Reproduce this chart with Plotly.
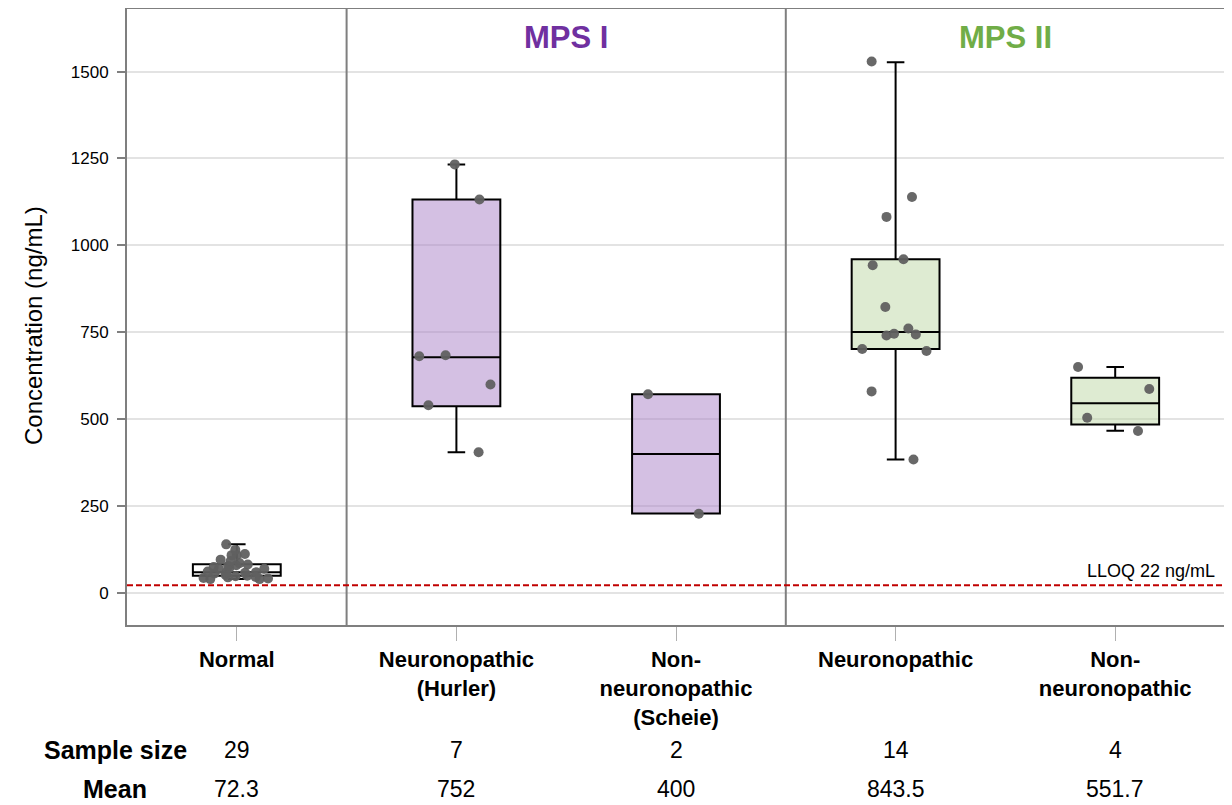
import plotly.graph_objects as go

# ---------------- data ----------------
categories = ["Normal", "Neuronopathic<br>(Hurler)", "Non-<br>neuronopathic<br>(Scheie)",
              "Neuronopathic", "Non-<br>neuronopathic"]
sample_sizes = ["29", "7", "2", "14", "4"]
means = ["72.3", "752", "400", "843.5", "551.7"]

normal_vals = [140, 124, 109, 112, 109, 96, 92, 86, 80, 82, 78, 75, 70, 72, 70,
               60, 60, 58, 56, 62, 52, 50, 48, 46, 45, 43, 42, 40, 40]
hurler_vals = [1233, 1132, 684, 681, 600, 540, 405]
scheie_vals = [572, 228]
mps2_neuro_vals = [1529, 1139, 1082, 960, 943, 823, 761, 741, 746, 744, 702, 696, 580, 384]
mps2_nonneuro_vals = [650, 587, 504, 466]

# box statistics
q1_vals = [50, 537, 229, 702, 485]
median_vals = [60, 678, 400, 751, 546]
q3_vals = [83, 1132, 572, 960, 619]
lower_vals = [40, 405, 229, 384, 467]
upper_vals = [140, 1233, 572, 1527, 650]

lloq = 22
y_ticks = [0, 250, 500, 750, 1000, 1250, 1500]

group_values = [normal_vals, hurler_vals, scheie_vals, mps2_neuro_vals, mps2_nonneuro_vals]
fills = ["rgba(255,255,255,0.6)", "rgba(170,130,200,0.5)", "rgba(170,130,200,0.5)",
         "rgba(190,215,165,0.5)", "rgba(190,215,165,0.5)"]

FONT = "Arial, Liberation Sans, Helvetica, sans-serif"
GRAY = "#7f7f7f"

# page body has an 8px margin; plot area should span x 127..1225, y 9..625 of the window
PLOT_H = 616
BOTTOM = 625

fig = go.Figure()

# boxes
for i in range(5):
    fig.add_trace(go.Box(
        x=[i], q1=[q1_vals[i]], median=[median_vals[i]], q3=[q3_vals[i]],
        lowerfence=[lower_vals[i]], upperfence=[upper_vals[i]],
        width=0.4, whiskerwidth=0.2, boxpoints=False,
        fillcolor=fills[i], line=dict(color="black", width=2),
        showlegend=False, hoverinfo="skip"))

# jittered points
for i, vals in enumerate(group_values):
    fig.add_trace(go.Box(
        x=[i] * len(vals), y=vals, boxpoints="all", jitter=1.0, pointpos=0,
        width=0.4, fillcolor="rgba(0,0,0,0)", line=dict(width=0, color="rgba(0,0,0,0)"),
        marker=dict(color="#606060", size=10, opacity=0.95),
        showlegend=False, hoverinfo="skip"))

# separators
for xs in [0.5, 2.5]:
    fig.add_shape(type="line", xref="x", yref="paper", x0=xs, x1=xs, y0=0, y1=1,
                  line=dict(color=GRAY, width=2), layer="above")

# LLOQ line
fig.add_shape(type="line", xref="paper", yref="y", x0=0, x1=1, y0=lloq, y1=lloq,
              line=dict(color="#c00000", width=2, dash="6px,3px"), layer="above")
fig.add_annotation(xref="paper", yref="y", x=0.9925, y=lloq, yshift=2, text="LLOQ 22 ng/mL",
                   showarrow=False, xanchor="right", yanchor="bottom",
                   font=dict(family=FONT, size=18, color="black"))

# group titles
title_y = (BOTTOM - 38) / PLOT_H
fig.add_annotation(xref="x", yref="paper", x=1.5, y=title_y, text="<b>MPS I</b>",
                   showarrow=False, xanchor="center", yanchor="middle",
                   font=dict(family=FONT, size=31, color="#7030a0"))
fig.add_annotation(xref="x", yref="paper", x=3.5, y=title_y, text="<b>MPS II</b>",
                   showarrow=False, xanchor="center", yanchor="middle",
                   font=dict(family=FONT, size=31, color="#70ad47"))

# y-axis title
fig.add_annotation(xref="paper", yref="paper", x=(33 - 127) / 1098, y=(BOTTOM - 326) / PLOT_H,
                   text="Concentration (ng/mL)", textangle=-90, showarrow=False,
                   xanchor="center", yanchor="middle",
                   font=dict(family=FONT, size=24, color="black"))

# table rows
row1_y = (BOTTOM - 750) / PLOT_H
row2_y = (BOTTOM - 789) / PLOT_H
label_x = (115 - 127) / 1098
fig.add_annotation(xref="paper", yref="paper", x=label_x, y=row1_y, text="<b>Sample size</b>",
                   showarrow=False, xanchor="center", yanchor="middle",
                   font=dict(family=FONT, size=25, color="black"))
fig.add_annotation(xref="paper", yref="paper", x=label_x, y=row2_y, text="<b>Mean</b>",
                   showarrow=False, xanchor="center", yanchor="middle",
                   font=dict(family=FONT, size=25, color="black"))
for i in range(5):
    fig.add_annotation(xref="x", yref="paper", x=i, y=row1_y, text=sample_sizes[i],
                       showarrow=False, xanchor="center", yanchor="middle",
                       font=dict(family=FONT, size=23, color="black"))
    fig.add_annotation(xref="x", yref="paper", x=i, y=row2_y, text=means[i],
                       showarrow=False, xanchor="center", yanchor="middle",
                       font=dict(family=FONT, size=23, color="black"))

fig.update_layout(
    width=1224, height=797,
    margin=dict(l=119, r=7, t=1, b=180, autoexpand=False),
    plot_bgcolor="white", paper_bgcolor="white",
    font=dict(family=FONT, color="black"),
    boxmode="overlay",
    showlegend=False,
    xaxis=dict(
        range=[-0.5, 4.5], tickmode="array", tickvals=list(range(5)),
        ticktext=["<b>" + c + "</b>" for c in categories],
        tickfont=dict(family=FONT, size=22, color="black"),
        ticks="outside", ticklen=14, tickcolor="#b0b0b0", tickwidth=1,
        showgrid=False, zeroline=False, automargin=False,
        showline=True, linecolor=GRAY, linewidth=2, mirror=True),
    yaxis=dict(
        range=[-92, 1680], tickmode="array", tickvals=y_ticks,
        tickfont=dict(family=FONT, size=17, color="black"),
        ticks="outside", ticklen=8, tickcolor=GRAY, tickwidth=2, ticklabelstandoff=5,
        showgrid=True, gridcolor="#e3e3e3", gridwidth=2, zeroline=False, automargin=False,
        showline=True, linecolor=GRAY, linewidth=2, mirror=True),
)

fig.write_html("out.html")
